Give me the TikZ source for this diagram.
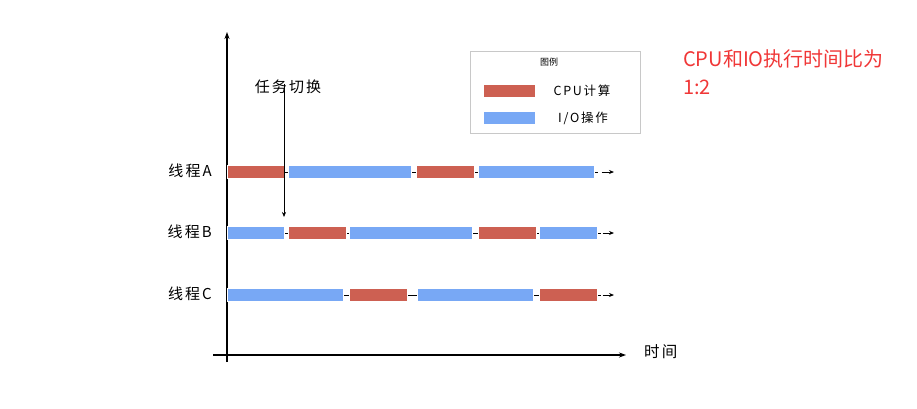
\documentclass[tikz,border=0pt]{standalone}
\usepackage{fontspec}
\setmainfont{Noto Sans CJK SC}
\newfontfamily\widecjk[LetterSpace=14]{Noto Sans CJK SC}
\usetikzlibrary{arrows.meta,positioning,backgrounds}
\definecolor{CPURed}{RGB}{205,96,82}
\definecolor{IOBlue}{RGB}{120,168,245}
\definecolor{NoteRed}{RGB}{240,55,55}
\definecolor{BoxGray}{RGB}{200,200,200}
\tikzset{
  cpubar/.style={fill=CPURed,draw=white,line width=0.5pt,minimum height=13pt,inner sep=0pt,anchor=west},
  iobar/.style={fill=IOBlue,draw=white,line width=0.5pt,minimum height=13pt,inner sep=0pt,anchor=west},
  rowline/.style={black,line width=0.7pt},
  arr/.style={-{Stealth[length=5pt,width=4pt]},black,line width=0.8pt},
  axis/.style={-{Stealth[length=7pt,width=5pt]},black,line width=1.1pt},
  thread/.style={font=\widecjk\fontsize{15}{17}\selectfont,anchor=east,inner sep=0pt},
  legtext/.style={font=\widecjk\fontsize{12.5}{14}\selectfont},
}
\begin{document}
\begin{tikzpicture}[x=1pt,y=-1pt]
    \useasboundingbox (0,0) rectangle (917,408);
    % axes
    \coordinate (ybot) at (227,362);
    \coordinate (ytop) at (227,32);
    \coordinate (xleft) at (213,355);
    \coordinate (xright) at (626,355);
    \draw[axis] (ybot) -- (ytop);
    \draw[axis] (xleft) -- (xright);
    \node[anchor=west,inner sep=0pt,font=\widecjk\fontsize{15.5}{17}\selectfont] (time) at (644,352) {时间};
    % thread A
    \node[thread] (la) at (212,171) {线程A};
    \node[cpubar,minimum width=57pt] (a1) at (227,172) {};
    \node[iobar,minimum width=123pt] (a2) at (288,172) {};
    \node[cpubar,minimum width=58pt] (a3) at (416,172) {};
    \node[iobar,minimum width=116pt] (a4) at (478,172) {};
    \coordinate (aend) at (614,172);
    % thread B
    \node[thread] (lb) at (212,232) {线程B};
    \node[iobar,minimum width=57pt] (b1) at (227,233) {};
    \node[cpubar,minimum width=58pt] (b2) at (288,233) {};
    \node[iobar,minimum width=123pt] (b3) at (349,233) {};
    \node[cpubar,minimum width=58pt] (b4) at (478,233) {};
    \node[iobar,minimum width=58pt] (b5) at (539,233) {};
    \coordinate (bend) at (614,233);
    % thread C
    \node[thread] (lc) at (212,294) {线程C};
    \node[iobar,minimum width=116pt] (c1) at (227,295) {};
    \node[cpubar,minimum width=58pt] (c2) at (349,295) {};
    \node[iobar,minimum width=116pt] (c3) at (417,295) {};
    \node[cpubar,minimum width=58pt] (c4) at (539,295) {};
    \coordinate (cend) at (614,295);
    \begin{scope}[on background layer]
      \draw[rowline] (a1.west) -- ([xshift=3pt]a4.east);
      \draw[rowline] (b1.west) -- ([xshift=3pt]b5.east);
      \draw[rowline] (c1.west) -- ([xshift=3pt]c4.east);
    \end{scope}
    \draw[arr] ([xshift=7pt]a4.east) -- (aend);
    \draw[arr] ([xshift=5pt]b5.east) -- (bend);
    \draw[arr] ([xshift=5pt]c4.east) -- (cend);
    % task switch
    \node[font=\widecjk\fontsize{15}{17}\selectfont,inner sep=0pt] (switch) at (288,87) {任务切换};
    \coordinate (swbot) at (284,217);
    \draw[arr,line width=0.6pt] (switch.south -| swbot) ++(0,-10) -- (swbot);
    % legend
    \node[draw=BoxGray,line width=0.8pt,minimum width=170pt,minimum height=82pt,inner sep=0pt] (legend) at (555,92) {};
    \node[font=\fontsize{9}{11}\selectfont] (legtitle) at (549,62) {图例};
    \node[cpubar,minimum width=52pt] (legcpu) at (483,91) {};
    \node[iobar,minimum width=52pt] (legio) at (483,118) {};
    \node[legtext,inner sep=0pt] (cputext) at (582,91) {CPU计算};
    \node[legtext,inner sep=0pt] (iotext) at (583,118) {I/O操作};
    % note
    \node[anchor=north west,align=left,text=NoteRed,font=\fontsize{20}{28}\selectfont,inner sep=0pt] (note) at (683,49) {CPU和IO执行时间比为\\1:2};
\end{tikzpicture}
\end{document}
